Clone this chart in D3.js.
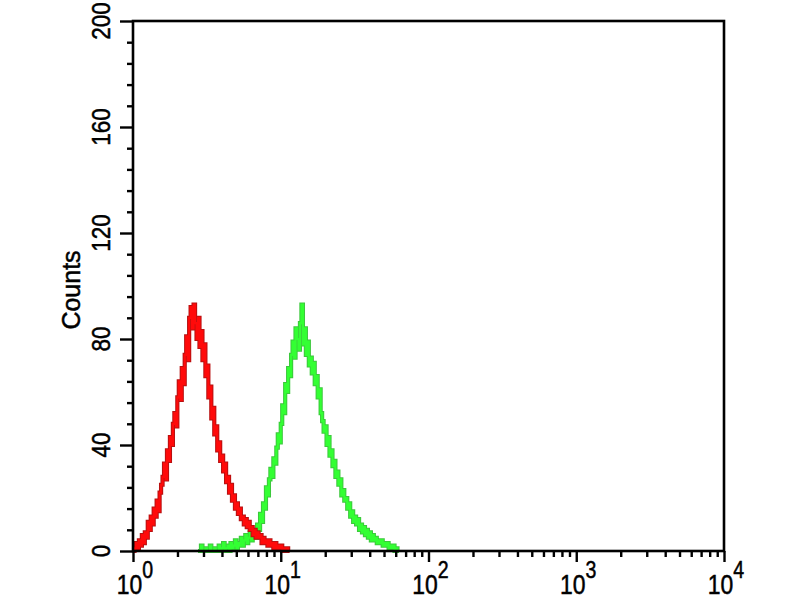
<!DOCTYPE html>
<html>
<head>
<meta charset="utf-8">
<script src="https://cdn.jsdelivr.net/npm/d3@7"></script>
<style>
  body { margin: 0; background: #fff; }
  text { font-family: "Liberation Sans", Arial, sans-serif; fill: #000; stroke: #000; stroke-width: 0.5; }
</style>
</head>
<body>
<svg class="scene"></svg>
<script>

//
// data
//

// channel bins, in decades (log10 of fluorescence)
var binStep = 0.01;
var redStart = 0.00;
var greenStart = 0.44;

// isotype control (red)
var redCounts = [0, 1, 3, 1, 4, 2, 6, 3, 7, 5,
    11, 8, 13, 10, 16, 13, 19, 15, 22, 25,
    28, 33, 27, 38, 34, 43, 40, 48, 52, 47,
    58, 64, 57, 69, 63, 74, 81, 72, 88, 92,
    84, 93, 86, 80, 88, 77, 83, 72, 78, 66,
    70, 58, 62, 50, 54, 44, 47, 38, 41, 34,
    36, 30, 33, 26, 28, 22, 25, 19, 21, 16,
    18, 14, 16, 12, 13, 10, 12, 9, 11, 8,
    9, 6, 8, 5, 7, 5, 6, 3, 5, 3,
    4, 2, 4, 2, 3, 1, 3, 1, 2, 1,
    2, 0, 1, 0, 1, 0, 0];

// antibody stained (green)
var greenCounts = [0, 0, 2, 0, 0, 1, 0, 0, 2, 0,
    0, 1, 0, 0, 2, 0, 1, 3, 0, 1,
    2, 0, 3, 1, 2, 4, 1, 3, 2, 5,
    2, 4, 6, 3, 5, 7, 4, 6, 8, 5,
    10, 8, 14, 11, 18, 16, 24, 21, 27, 31,
    28, 35, 33, 39, 44, 41, 48, 55, 52, 63,
    60, 69, 66, 74, 79, 73, 84, 80, 76, 86,
    93, 78, 84, 74, 79, 70, 73, 67, 71, 63,
    66, 58, 61, 52, 49, 45, 47, 40, 43, 36,
    38, 32, 34, 28, 30, 25, 27, 21, 23, 19,
    20, 16, 18, 13, 15, 11, 13, 10, 12, 8,
    10, 7, 9, 6, 8, 5, 7, 4, 6, 4,
    5, 3, 4, 3, 4, 2, 3, 2, 3, 1,
    2, 1, 2, 0, 1, 0, 0];

var yMajor = [0, 40, 80, 120, 160, 200];
var yMinorStep = 8;
var xMajor = [1, 10, 100, 1000, 10000];
var xExponents = ["0", "1", "2", "3", "4"];
var yTitle = "Counts";

//
// scene
//

var width = 800,
    height = 600;

var scene = d3.select(".scene")
    .attr("width", width)
    .attr("height", height);

var plotLeft = 133, plotRight = 724, plotTop = 21, plotBottom = 551;

var x = d3.scaleLog()
    .domain([1, 10000])
    .range([plotLeft, plotRight]);

var y = d3.scaleLinear()
    .domain([0, 200])
    .range([plotBottom, plotTop]);

//
// histograms
//

function to_points(counts, start) {
    var res = [];
    for (var i = 0; i < counts.length; i++) {
        res.push({"e": start + i * binStep, "c": counts[i]});
    }
    return res;
}

var line = d3.line()
    .x(function (d) { return x(Math.pow(10, d.e)); })
    .y(function (d) { return y(d.c); })
    .curve(d3.curveStepAfter);

function draw_hist(counts, start, edge, core) {
    var pts = to_points(counts, start);
    scene.append("path")
        .attr("d", line(pts))
        .attr("fill", "none")
        .attr("stroke", edge)
        .attr("stroke-width", 4.2);
    scene.append("path")
        .attr("d", line(pts))
        .attr("fill", "none")
        .attr("stroke", core)
        .attr("stroke-width", 2.2);
}

draw_hist(greenCounts, greenStart, "#3cc83c", "#33ff33");
draw_hist(redCounts, redStart, "#b81010", "#ff0a0a");

//
// axes
//

var yMinor = d3.range(0, 200 + 1, yMinorStep).filter(function (v) {
    return yMajor.indexOf(v) < 0;
});
var xMinor = x.ticks().filter(function (v) {
    return xMajor.indexOf(v) < 0;
});

function style_axis(g) {
    g.select(".domain").remove();
    g.selectAll("line").attr("stroke", "#000").attr("stroke-width", 2.4);
}

scene.append("g")
    .attr("transform", "translate(" + plotLeft + ",0)")
    .call(d3.axisLeft(y).tickValues(yMinor).tickSize(6).tickFormat(""))
    .call(style_axis);
scene.append("g")
    .attr("transform", "translate(" + plotLeft + ",0)")
    .call(d3.axisLeft(y).tickValues(yMajor).tickSize(13).tickFormat(""))
    .call(style_axis);

scene.append("g")
    .attr("transform", "translate(0," + plotBottom + ")")
    .call(d3.axisBottom(x).tickValues(xMinor).tickSize(6).tickFormat(""))
    .call(style_axis);
scene.append("g")
    .attr("transform", "translate(0," + plotBottom + ")")
    .call(d3.axisBottom(x).tickValues(xMajor).tickSize(11).tickFormat(""))
    .call(style_axis);

// frame
scene.append("rect")
    .attr("x", plotLeft)
    .attr("y", plotTop)
    .attr("width", plotRight - plotLeft)
    .attr("height", plotBottom - plotTop)
    .attr("fill", "none")
    .attr("stroke", "#000")
    .attr("stroke-width", 2.6);

// y labels
scene.selectAll("text.ylab")
    .data(yMajor)
    .enter().append("text")
    .attr("class", "ylab")
    .attr("transform", function (d) {
        return "translate(110," + y(d) + ") rotate(-90) scale(0.9,1)";
    })
    .attr("text-anchor", "middle")
    .attr("font-size", 25)
    .text(function (d) { return d; });

// x labels
var xl = scene.selectAll("text.xlab")
    .data(xMajor)
    .enter().append("text")
    .attr("class", "xlab")
    .attr("transform", function (d) {
        return "translate(" + (x(d) + 2) + ",594) scale(0.85,1)";
    })
    .attr("text-anchor", "middle")
    .attr("font-size", 27);
xl.append("tspan").text("10");
xl.append("tspan")
    .attr("dy", -16)
    .attr("font-size", 23)
    .text(function (d, i) { return xExponents[i]; });

// y title
scene.append("text")
    .attr("transform", "translate(80,290) rotate(-90)")
    .attr("text-anchor", "middle")
    .attr("font-size", 25)
    .text(yTitle);

</script>
</body>
</html>
